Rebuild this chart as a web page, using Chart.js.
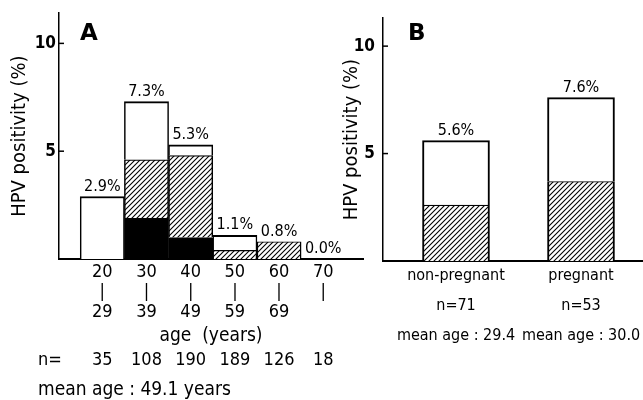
<!DOCTYPE html>
<html><head><meta charset="utf-8">
<script src="https://cdn.jsdelivr.net/npm/chart.js@4.4.1/dist/chart.umd.min.js"></script>
<style>
html,body{margin:0;padding:0;background:#fff;}
#wrap{position:relative;width:643px;height:400px;overflow:hidden;background:#fff;}
#ca{position:absolute;left:0;top:0;}
#cb{position:absolute;left:340px;top:0;}
</style></head><body>
<div id="wrap">
<canvas id="ca" width="365" height="400"></canvas>
<canvas id="cb" width="303" height="400"></canvas>
</div>
<script>
// ---- data (panel A) ----
const ageStarts = ['20','30','40','50','60','70'];
const ageEnds   = ['29','39','49','59','69',''];
const ageMid    = [25,35,45,55,65,75];
const aBlack = [0, 1.9, 1.0, 0, 0, 0];
const aHatch = [0, 2.7, 3.8, 0.4, 0.8, 0];
const aWhite = [2.9, 2.7, 0.5, 0.7, 0, 0];
const aTotalLabels = ['2.9%','7.3%','5.3%','1.1%','0.8%','0.0%'];
const aN = ['35','108','190','189','126','18'];
const aMeanAge = 'mean age : 49.1 years';
// ---- data (panel B) ----
const groups = ['non-pregnant','pregnant'];
const groupPos = [1, 2];
const bHatch = [2.6, 3.7];
const bWhite = [3.0, 3.9];
const bTotalLabels = ['5.6%','7.6%'];
const bN = ['n=71','n=53'];
const bMeanAge = ['mean age : 29.4','mean age : 30.0'];
const yTicks = [5, 10];

const FONT = '"DejaVu Sans Condensed","Liberation Sans Narrow","DejaVu Sans",sans-serif';

function makeHatch(ctx){
  const c = document.createElement('canvas'); c.width = 5; c.height = 5;
  const g = c.getContext('2d');
  g.fillStyle = '#fff'; g.fillRect(0,0,5,5);
  g.strokeStyle = '#000'; g.lineWidth = 1.1;
  g.beginPath();
  g.moveTo(-1,6); g.lineTo(6,-1);
  g.moveTo(-1,1); g.lineTo(1,-1);
  g.moveTo(4,6); g.lineTo(6,4);
  g.stroke();
  return ctx.createPattern(c,'repeat');
}

function topLabelsPlugin(labels, xs, totals, letter, letterX){
  return {
    id:'overlay',
    afterDatasetsDraw(chart){
      const {ctx, scales:{x,y}} = chart;
      ctx.save();
      ctx.fillStyle = '#000';
      ctx.font = '16px ' + FONT;
      ctx.textAlign = 'center'; ctx.textBaseline = 'bottom';
      labels.forEach((t,i)=>{
        ctx.fillText(t, x.getPixelForValue(xs[i]), y.getPixelForValue(totals[i]) - 2);
      });
      // inward tick marks
      ctx.strokeStyle = '#000'; ctx.lineWidth = 1.5;
      yTicks.forEach(v=>{
        const py = y.getPixelForValue(v);
        ctx.beginPath(); ctx.moveTo(x.left, py); ctx.lineTo(x.left + 5, py); ctx.stroke();
      });
      ctx.font = 'bold 23px "DejaVu Sans",sans-serif';
      ctx.textAlign = 'left'; ctx.textBaseline = 'middle';
      ctx.fillText(letter, letterX, 34);
      ctx.restore();
    }
  };
}

// ---------- Panel A ----------
const ca = document.getElementById('ca');
const hatchA = makeHatch(ca.getContext('2d'));
const aTotals = ageMid.map((_,i)=>aBlack[i]+aHatch[i]+aWhite[i]);
const pluginA = topLabelsPlugin(aTotalLabels, ageMid, aTotals, 'A', 80);
const bottomA = {
  id:'bottomA',
  afterDraw(chart){
    const {ctx, scales:{x}} = chart;
    ctx.save();
    ctx.fillStyle = '#000';
    ctx.font = '18px ' + FONT;
    ctx.textBaseline = 'middle';
    ctx.textAlign = 'left';
    ctx.fillText('n=', 38, 360);
    ctx.textAlign = 'center';
    aN.forEach((t,i)=> ctx.fillText(t, x.getPixelForValue(ageMid[i]), 360));
    ctx.textAlign = 'left';
    ctx.font = '19px ' + FONT;
    ctx.fillText(aMeanAge, 38, 390);
    ctx.restore();
  }
};

new Chart(ca, {
  type:'bar',
  data:{ datasets:[
    {label:'black', data: ageMid.map((x,i)=>({x, y:aBlack[i]})), backgroundColor:'#000', borderColor:'#000',
     borderWidth:{left:1.5,right:1.5,top:0,bottom:0}},
    {label:'hatch', data: ageMid.map((x,i)=>({x, y:aHatch[i]})), backgroundColor:hatchA, borderColor:'#000',
     borderWidth:{left:1.5,right:1.5,top:1.2,bottom:0}},
    {label:'white', data: ageMid.map((x,i)=>({x, y:aWhite[i]})), backgroundColor:'#fff', borderColor:'#000',
     borderWidth:{left:1.5,right:1.5,top:2,bottom:0}}
  ]},
  options:{
    responsive:false, animation:false, devicePixelRatio:1,
    layout:{padding:{left:0,right:2,top:10,bottom:53}},
    plugins:{legend:{display:false}, tooltip:{enabled:false}},
    datasets:{bar:{barPercentage:1, categoryPercentage:1, borderSkipped:false}},
    scales:{
      x:{ type:'linear', stacked:true, min:15.2, max:84, offset:false,
        afterBuildTicks: s=>{ s.ticks = ageMid.map(v=>({value:v})); },
        afterFit: s=>{ s.height = 88; },
        ticks:{ callback:(v,i)=>[ageStarts[i],'|',ageEnds[i]], color:'#000', padding:3,
          maxRotation:0, autoSkip:false, font:{family:FONT, size:18, lineHeight:'20px'} },
        grid:{display:false, drawTicks:false, tickLength:0, offset:false},
        border:{display:true, color:'#000', width:2},
        title:{display:true, text:'age  (years)', color:'#000', padding:{top:0,bottom:0},
          font:{family:FONT, size:19}}
      },
      y:{ stacked:true, min:0, max:11.4,
        afterBuildTicks: s=>{ s.ticks = yTicks.map(v=>({value:v})); },
        afterFit: s=>{ s.width = 59; },
        ticks:{ color:'#000', padding:3, font:{family:FONT, size:17, weight:'bold'} },
        grid:{display:false, drawTicks:false, tickLength:0},
        border:{display:true, color:'#000', width:1.5},
        title:{display:true, text:'HPV positivity (%)', color:'#000', padding:{top:8,bottom:0},
          font:{family:FONT, size:20}}
      }
    }
  },
  plugins:[pluginA, bottomA]
});

// ---------- Panel B ----------
const cb = document.getElementById('cb');
const hatchB = makeHatch(cb.getContext('2d'));
const bTotals = groupPos.map((_,i)=>bHatch[i]+bWhite[i]);
const pluginB = topLabelsPlugin(bTotalLabels, groupPos, bTotals, 'B', 68);

new Chart(cb, {
  type:'bar',
  data:{ datasets:[
    {label:'hatch', data: groupPos.map((x,i)=>({x, y:bHatch[i]})), backgroundColor:hatchB, borderColor:'#000',
     borderWidth:{left:2,right:2,top:1.2,bottom:0}},
    {label:'white', data: groupPos.map((x,i)=>({x, y:bWhite[i]})), backgroundColor:'#fff', borderColor:'#000',
     borderWidth:{left:2,right:2,top:2,bottom:0}}
  ]},
  options:{
    responsive:false, animation:false, devicePixelRatio:1,
    layout:{padding:{left:0,right:0,top:13,bottom:49}},
    plugins:{legend:{display:false}, tooltip:{enabled:false}},
    datasets:{bar:{barThickness:67, borderSkipped:false}},
    scales:{
      x:{ type:'linear', stacked:true, min:0.416, max:2.496, offset:false,
        afterBuildTicks: s=>{ s.ticks = groupPos.map(v=>({value:v})); },
        afterFit: s=>{ s.height = 90; },
        ticks:{ callback:(v,i)=>[groups[i], bN[i], bMeanAge[i]], color:'#000', padding:0,
          maxRotation:0, autoSkip:false, font:{family:FONT, size:16, lineHeight:'30px'} },
        grid:{display:false, drawTicks:false, tickLength:0, offset:false},
        border:{display:true, color:'#000', width:2}
      },
      y:{ stacked:true, min:0, max:11.3,
        afterBuildTicks: s=>{ s.ticks = yTicks.map(v=>({value:v})); },
        afterFit: s=>{ s.width = 43; },
        ticks:{ color:'#000', padding:8, font:{family:FONT, size:17, weight:'bold'} },
        grid:{display:false, drawTicks:false, tickLength:0},
        border:{display:true, color:'#000', width:1.5},
        title:{display:true, text:'HPV positivity (%)', color:'#000', padding:{top:0,bottom:0},
          font:{family:FONT, size:20}}
      }
    }
  },
  plugins:[pluginB]
});
</script>
</body></html>
